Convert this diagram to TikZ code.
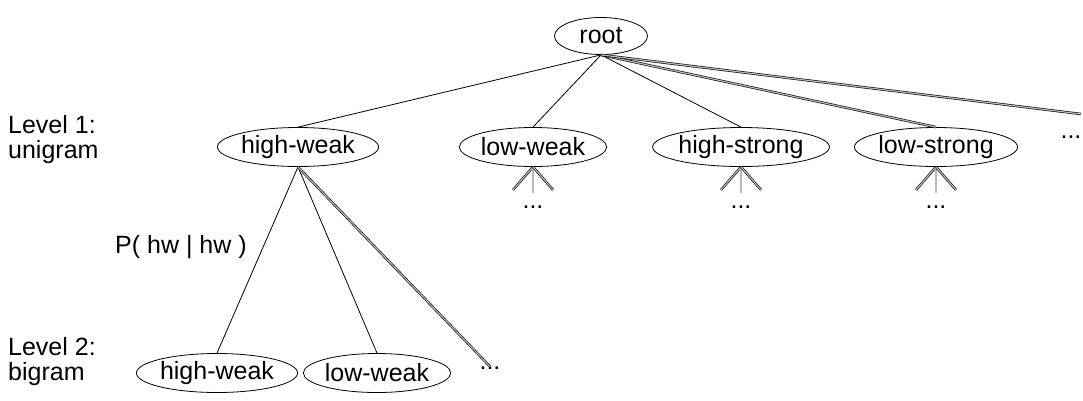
\documentclass[tikz,border=0pt]{standalone}
\usepackage{fontspec}
\setmainfont{Liberation Sans}
\usetikzlibrary{shapes.geometric}

\tikzset{
  state/.style={ellipse, draw, line width=0.8pt, inner sep=0pt,
    minimum width=136pt, minimum height=39pt, font=\fontsize{25}{28}\selectfont},
  label/.style={font=\fontsize{25}{25}\selectfont, inner sep=0pt},
  caption/.style={label, align=left, anchor=west},
  edge/.style={line width=0.8pt},
  heavy/.style={line width=0.6pt, double=gray!55, double distance=1.2pt},
}

\begin{document}
\begin{tikzpicture}[x=1pt, y=-1pt]
  \useasboundingbox (0,0) rectangle (1083,400);

  % tree nodes
  \node[state, minimum width=93pt, minimum height=37pt] (root) at (601,36) {root};

  \node[state] (hw1) at (298,147) {high-weak};
  \node[state] (lw1) at (533,147) {low-weak};
  \node[state, minimum width=140pt] (hs1) at (741,147) {high-strong};
  \node[state, minimum width=143pt] (ls1) at (936,147) {low-strong};
  \node[label] (dotsA) at (1071,137) {...};
  \coordinate (moreA) at (1081,114);

  \node[state, minimum width=139pt] (hw2) at (217,373) {high-weak};
  \node[state, minimum width=134pt] (lw2) at (377,373) {low-weak};
  \node[label] (dotsB) at (490,368) {...};

  % level captions
  \node[caption] (lvl1) at (8,140) {Level 1:\\unigram};
  \node[caption] (lvl2) at (8,362) {Level 2:\\bigram};

  % transition label
  \node[label, anchor=west] (prob) at (115,247) {P( hw | hw )};

  % edges from the root
  \draw[edge] (root.south) -- (hw1.north);
  \draw[edge] (root.south) -- (lw1.north);
  \draw[edge] (root.south) -- (hs1.north);
  \draw[heavy] (root.south) -- (ls1.north);
  \draw[heavy] (root.south) -- (moreA);

  % edges below high-weak
  \draw[edge] (hw1.south) -- (hw2.north);
  \draw[edge] (hw1.south) -- (lw2.north);
  \draw[heavy] (hw1.south) -- (dotsB.north);

  % collapsed subtrees
  \foreach \n in {lw1, hs1, ls1} {
    \draw[heavy] (\n.south) -- ++(-20,23);
    \draw[heavy] (\n.south) -- ++(0,26);
    \draw[heavy] (\n.south) -- ++(20,23);
    \node[label] (\n dots) at ([yshift=-40pt]\n.south) {...};
  }
\end{tikzpicture}
\end{document}
